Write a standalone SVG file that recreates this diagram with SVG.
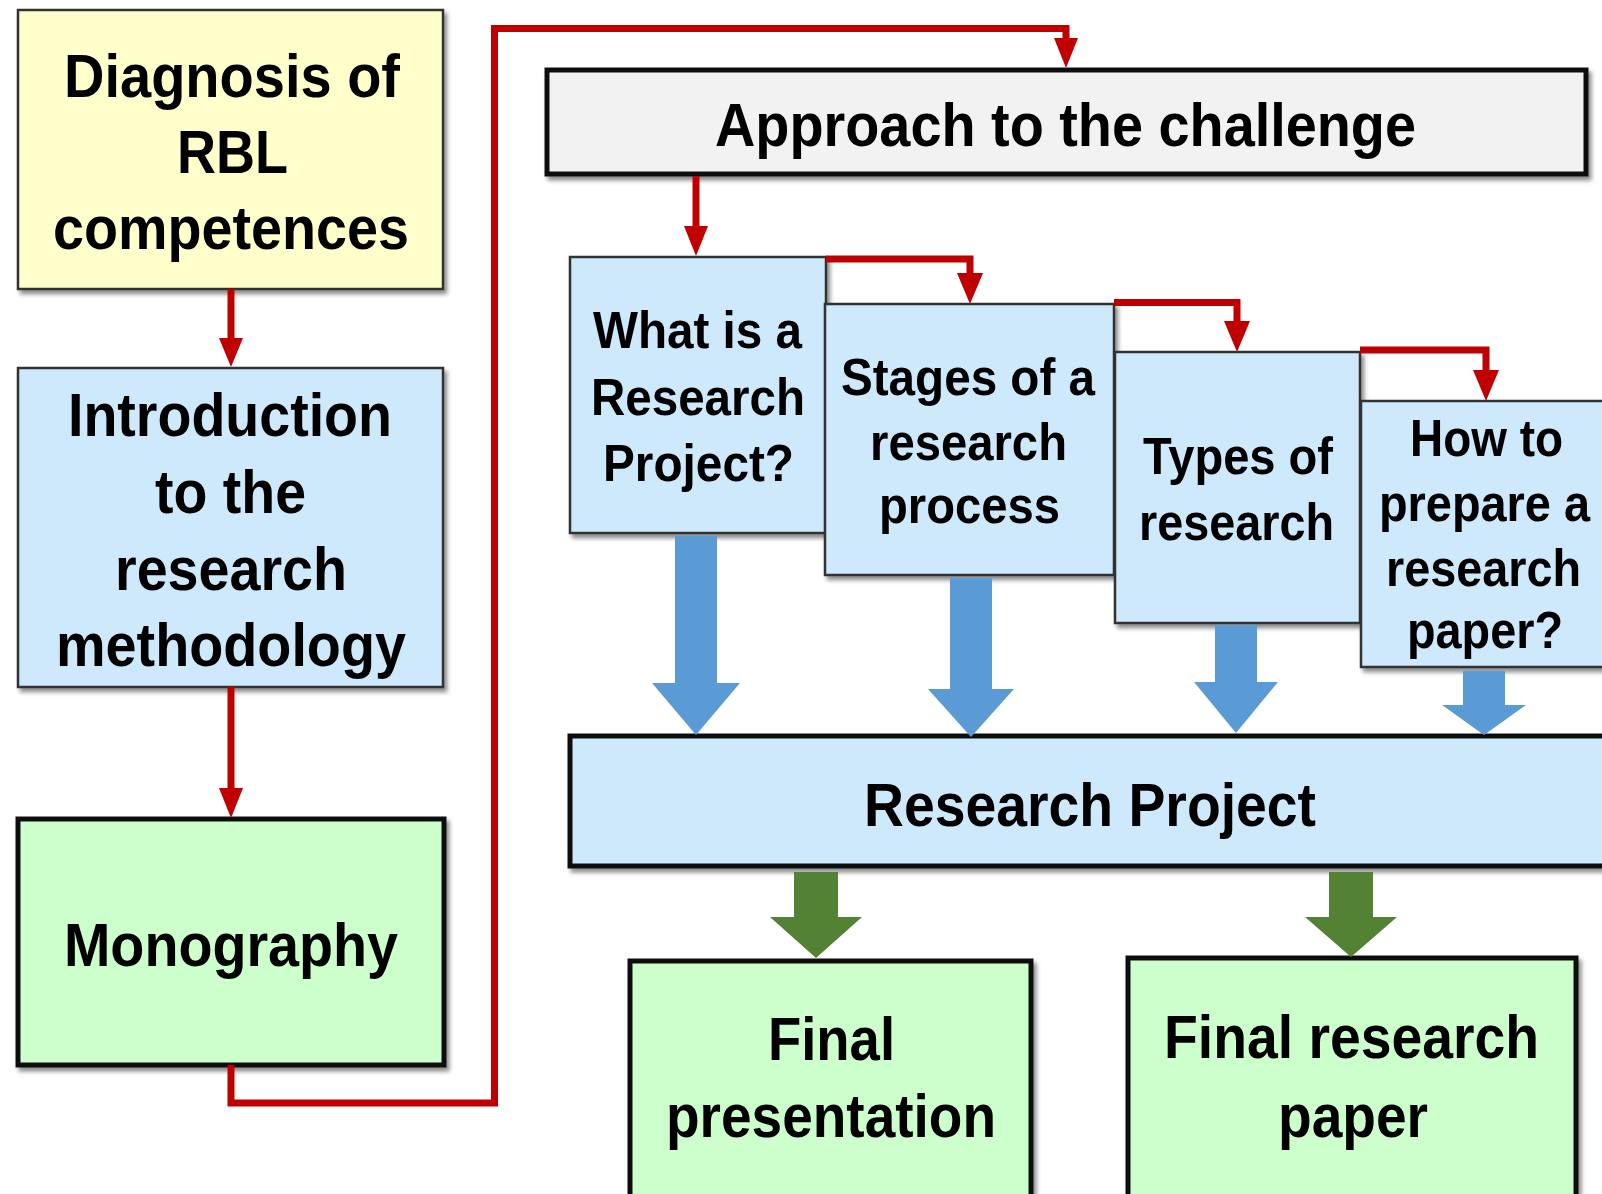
<svg xmlns="http://www.w3.org/2000/svg" width="1602" height="1194" viewBox="0 0 1602 1194">
<defs>
<style>
text{font-family:"Liberation Sans",Arial,sans-serif;font-weight:bold;fill:#000}
.big{font-size:61px}
.small{font-size:52px}
.thin{stroke:#333;stroke-width:2.5}
.thick{stroke:#111;stroke-width:5}
.yellow{fill:#FFFFCC}
.blue{fill:#CDE9FB}
.green{fill:#CCFFCC}
.gray{fill:#F2F2F2}
.red{fill:none;stroke:#C00000;stroke-width:7}
.redhead{fill:#C00000}
.barrow{fill:#5B9BD5}
.garrow{fill:#548235}
</style>
<filter id="sh" x="-5%" y="-5%" width="115%" height="120%">
<feDropShadow dx="3" dy="4" stdDeviation="2" flood-color="#000" flood-opacity="0.45"/>
</filter>
</defs>
<rect width="1602" height="1194" fill="#fff"/>

<g id="diagnosis">
<rect x="18" y="10" width="425" height="279" class="yellow thin" filter="url(#sh)"/>
<text class="big" x="64" y="97" textLength="336" lengthAdjust="spacingAndGlyphs">Diagnosis of</text>
<text class="big" x="177" y="173" textLength="111" lengthAdjust="spacingAndGlyphs">RBL</text>
<text class="big" x="53" y="249" textLength="356" lengthAdjust="spacingAndGlyphs">competences</text>
</g>

<g id="introduction">
<rect x="18" y="368" width="425" height="319" class="blue thin" filter="url(#sh)"/>
<text class="big" x="68" y="436" textLength="324" lengthAdjust="spacingAndGlyphs">Introduction</text>
<text class="big" x="155" y="513" textLength="151" lengthAdjust="spacingAndGlyphs">to the</text>
<text class="big" x="115" y="590" textLength="232" lengthAdjust="spacingAndGlyphs">research</text>
<text class="big" x="56" y="666" textLength="350" lengthAdjust="spacingAndGlyphs">methodology</text>
</g>

<g id="monography">
<rect x="18" y="819" width="426" height="246" class="green thick" filter="url(#sh)"/>
<text class="big" x="64" y="966" textLength="334" lengthAdjust="spacingAndGlyphs">Monography</text>
</g>

<g id="approach">
<rect x="547" y="70" width="1039" height="104" class="gray thick" filter="url(#sh)"/>
<text class="big" x="715" y="146" textLength="701" lengthAdjust="spacingAndGlyphs">Approach to the challenge</text>
</g>

<g id="what-is">
<rect x="570" y="257" width="256" height="276" class="blue thin" filter="url(#sh)"/>
<text class="small" x="593" y="348" textLength="209" lengthAdjust="spacingAndGlyphs">What is a</text>
<text class="small" x="591" y="415" textLength="214" lengthAdjust="spacingAndGlyphs">Research</text>
<text class="small" x="603" y="481" textLength="191" lengthAdjust="spacingAndGlyphs">Project?</text>
</g>

<g id="stages">
<rect x="825" y="304" width="289" height="271" class="blue thin" filter="url(#sh)"/>
<text class="small" x="841" y="395" textLength="254" lengthAdjust="spacingAndGlyphs">Stages of a</text>
<text class="small" x="870" y="460" textLength="197" lengthAdjust="spacingAndGlyphs">research</text>
<text class="small" x="879" y="523" textLength="181" lengthAdjust="spacingAndGlyphs">process</text>
</g>

<g id="types">
<rect x="1115" y="352" width="245" height="271" class="blue thin" filter="url(#sh)"/>
<text class="small" x="1143" y="474" textLength="190" lengthAdjust="spacingAndGlyphs">Types of</text>
<text class="small" x="1139" y="540" textLength="195" lengthAdjust="spacingAndGlyphs">research</text>
</g>

<g id="how-to">
<rect x="1361" y="401" width="270" height="266" class="blue thin" filter="url(#sh)"/>
<text class="small" x="1410" y="456" textLength="153" lengthAdjust="spacingAndGlyphs">How to</text>
<text class="small" x="1379" y="521" textLength="211" lengthAdjust="spacingAndGlyphs">prepare a</text>
<text class="small" x="1386" y="586" textLength="195" lengthAdjust="spacingAndGlyphs">research</text>
<text class="small" x="1407" y="648" textLength="156" lengthAdjust="spacingAndGlyphs">paper?</text>
</g>

<g id="research-project">
<rect x="570" y="736" width="1060" height="130" class="blue thick" filter="url(#sh)"/>
<text class="big" x="864" y="826" textLength="452" lengthAdjust="spacingAndGlyphs">Research Project</text>
</g>

<g id="final-presentation">
<rect x="630" y="961" width="401" height="240" class="green thick" filter="url(#sh)"/>
<text class="big" x="768" y="1060" textLength="127" lengthAdjust="spacingAndGlyphs">Final</text>
<text class="big" x="666" y="1137" textLength="330" lengthAdjust="spacingAndGlyphs">presentation</text>
</g>

<g id="final-paper">
<rect x="1128" y="958" width="448" height="243" class="green thick" filter="url(#sh)"/>
<text class="big" x="1164" y="1058" textLength="375" lengthAdjust="spacingAndGlyphs">Final research</text>
<text class="big" x="1278" y="1137" textLength="150" lengthAdjust="spacingAndGlyphs">paper</text>
</g>

<g id="connectors">
<path class="red" d="M231,289 V340"/>
<polygon class="redhead" points="219,338 243,338 231,367"/>
<path class="red" d="M231,687 V790"/>
<polygon class="redhead" points="219,788 243,788 231,818"/>
<path class="red" d="M231,1065 V1103 H494.5 V28.5 H1066 V40"/>
<polygon class="redhead" points="1054,38 1078,38 1066,68"/>
<path class="red" d="M696,176 V228"/>
<polygon class="redhead" points="684,226 708,226 696,256"/>
<path class="red" d="M826,259 H970 V276"/>
<polygon class="redhead" points="957,273 983,273 970,304"/>
<path class="red" d="M1114,302.5 H1237 V324"/>
<polygon class="redhead" points="1224,321 1250,321 1237,352"/>
<path class="red" d="M1360,350 H1486 V373"/>
<polygon class="redhead" points="1473,370 1499,370 1486,401"/>
<polygon class="barrow" points="675,536 717,536 717,683 740,683 696,735 652,683 675,683"/>
<polygon class="barrow" points="950,578 992,578 992,689 1014,689 971,737 928,689 950,689"/>
<polygon class="barrow" points="1215,625 1257,625 1257,682 1278,682 1236,733 1194,682 1215,682"/>
<polygon class="barrow" points="1463,671 1505,671 1505,705 1526,705 1484,735 1442,705 1463,705"/>
<polygon class="garrow" points="794,872 838,872 838,917 862,917 816,958 770,917 794,917"/>
<polygon class="garrow" points="1329,872 1373,872 1373,917 1397,917 1351,957 1305,917 1329,917"/>
</g>
</svg>
